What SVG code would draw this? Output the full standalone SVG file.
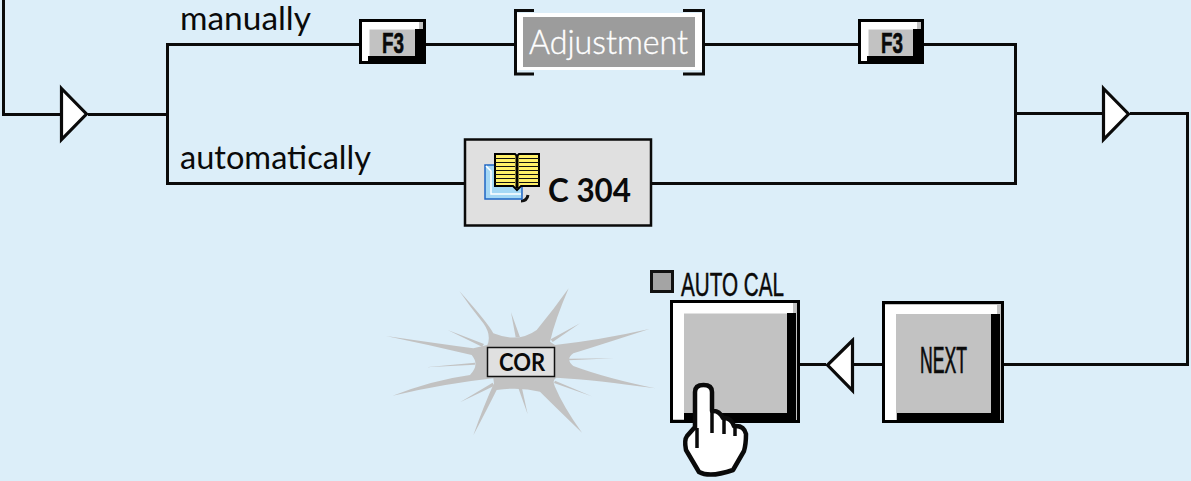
<svg xmlns="http://www.w3.org/2000/svg" width="1191" height="481" viewBox="0 0 1191 481">
<style>
text{font-family:"Lato","Liberation Sans",sans-serif;fill:#0a0a0a}
.lbl{font-size:32px}
.cond{font-family:"Liberation Sans",sans-serif;fill:#0a0a0a;stroke:#0a0a0a}
.wire{fill:none;stroke:#0a0a0a;stroke-width:3}
.tri{fill:#fff;stroke:#0a0a0a;stroke-width:3.200}
.blk{fill:#000}
.wht{fill:#fff}
.gry{fill:#c2c2c2}
</style>
<rect width="1191" height="481" fill="#dceef9"/>
<g id="connectors">
<path class="wire" d="M3.500 0V114.500H62M88 114.500H167"/>
<path class="wire" d="M360 44.500H167.500V183.500H465"/>
<path class="wire" d="M426 44.500H515M704 44.500H859M924 44.500H1015.500V183.500H651"/>
<path class="wire" d="M1015 113.500H1103M1130 113.500H1187.500V364.500H1003"/>
<path class="wire" d="M883 364.500H853M826 364.500H800"/>
<polygon class="tri" points="61.500,88.500 86.500,114 61.500,139.500"/>
<polygon class="tri" points="1103.500,88.500 1128.500,114 1103.500,139.500"/>
<polygon class="tri" points="852.500,340.500 827.500,365 852.500,390.500"/>
</g>
<g id="label-manually"><text class="lbl" x="180" y="30" textLength="131" lengthAdjust="spacingAndGlyphs">manually</text></g>
<g id="label-automatically"><text class="lbl" x="180" y="169" textLength="191" lengthAdjust="spacingAndGlyphs">automatically</text></g>
<g id="f3-left">
<rect x="359" y="19" width="67" height="45" class="blk"/>
<rect x="362" y="22" width="61" height="39" fill="#c2c2c2"/>
<rect x="362" y="22" width="57" height="7.500" class="wht"/>
<rect x="362" y="22" width="7.500" height="39" class="wht"/>
<rect x="415" y="29" width="8" height="32" class="blk"/>
<rect x="368" y="56" width="55" height="5" class="blk"/>
<text class="cond" x="382" y="53" font-size="30" font-weight="700" stroke-width=".6" textLength="22" lengthAdjust="spacingAndGlyphs">F3</text>
</g>
<g id="adjustment">
<rect x="517" y="13" width="185" height="57" class="wht"/>
<rect x="523" y="17" width="172" height="50" fill="#9c9c9c"/>
<path class="wire" d="M534 10.500H515.500V74H534M683 10.500H703.500V74H683" stroke-width="3.500"/>
<text x="529" y="54" font-size="34" font-weight="300" stroke="#fff" stroke-width=".4" textLength="159" lengthAdjust="spacingAndGlyphs" style="fill:#fff">Adjustment</text>
</g>
<g id="f3-right">
<rect x="858" y="19" width="66" height="45" class="blk"/>
<rect x="861" y="22" width="60" height="39" fill="#c2c2c2"/>
<rect x="861" y="22" width="56" height="7.500" class="wht"/>
<rect x="861" y="22" width="7.500" height="39" class="wht"/>
<rect x="913" y="29" width="8" height="32" class="blk"/>
<rect x="867" y="56" width="54" height="5" class="blk"/>
<text class="cond" x="881" y="53" font-size="30" font-weight="700" stroke-width=".6" textLength="22" lengthAdjust="spacingAndGlyphs">F3</text>
</g>
<g id="c304">
<rect x="465" y="139.500" width="186" height="86" fill="#e0e0e0" stroke="#0a0a0a" stroke-width="2.500"/>
<path d="M521 201q6 0 7-6" fill="none" stroke="#111" stroke-width="3"/>
<rect x="485" y="165" width="37" height="34" fill="#a5d8f5" stroke="#1f66c4" stroke-width="1.500"/>
<path d="M486 166l5 5v23h30" fill="none" stroke="#fff" stroke-width="1.500"/>
<path d="M495 154h20l2 2 2-2h20v32h-18l-4 4-4-4h-18z" fill="#fff068" stroke="#000" stroke-width="2"/>
<path d="M495 158.500h20M495 162.500h20M495 166.500h20M495 170.500h20M495 174.500h20M495 178.500h20M495 182.500h20M519 158.500h20M519 162.500h20M519 166.500h20M519 170.500h20M519 174.500h20M519 178.500h20M519 182.500h20" stroke="#111" stroke-width="1" fill="none"/>
<path d="M517 156v32" stroke="#000" stroke-width="3"/>
<text x="548" y="202" font-size="33" font-weight="700" textLength="83" lengthAdjust="spacingAndGlyphs">C 304</text>
</g>
<g id="cor">
<g transform="translate(380 280) scale(.33333)">
<path class="gry" d="M238 33Q325 130 340 160Q415 190 470 150Q520 90 566 25Q525 120 510 185L525 195Q660 180 808 147Q660 195 580 220Q555 238 580 258Q680 295 826 325Q650 300 530 293Q515 300 525 320Q550 380 606 458Q530 385 480 335Q420 320 350 330Q320 390 280 466Q310 380 342 310L340 295Q200 310 38 347Q160 300 270 285Q300 255 275 225Q150 195 18 168Q170 190 280 205L322 195Q335 165 310 130Q270 80 238 33Z"/>
<path class="gry" d="M393 97L420 172L407 172ZM600 130L512 178L518 186ZM702 235L565 236L565 241ZM635 349L525 302L522 309ZM443 403L426 325L416 327ZM240 367L338 308L342 318ZM138 262L285 248L285 254ZM203 150L312 192L306 200Z"/>
</g>
<rect x="487.500" y="347.500" width="67" height="29" fill="#e0e0e0" stroke="#111" stroke-width="1.500"/>
<text x="499" y="371" font-size="24" font-weight="700" textLength="46" lengthAdjust="spacingAndGlyphs">COR</text>
</g>
<g id="auto-cal">
<rect x="651.500" y="271.500" width="21" height="20" fill="#a4a4a4" stroke="#111" stroke-width="3"/>
<text class="cond" x="681" y="296" font-size="33" stroke-width=".5" textLength="103" lengthAdjust="spacingAndGlyphs">AUTO CAL</text>
<rect x="670" y="300" width="130" height="123" class="blk"/>
<rect x="673" y="303" width="124" height="117" class="gry"/>
<rect x="673" y="303" width="120" height="10.500" class="wht"/>
<rect x="673" y="303" width="11" height="116" class="wht"/>
<rect x="787" y="313" width="9" height="107" class="blk"/>
<rect x="684" y="413" width="112" height="7" class="blk"/>
</g>
<g id="next">
<rect x="882" y="301" width="122" height="122" class="blk"/>
<rect x="885" y="304" width="116" height="116" class="gry"/>
<rect x="885" y="305" width="112" height="9" class="wht"/>
<rect x="885" y="305" width="11" height="115" class="wht"/>
<rect x="991" y="314" width="9" height="106" class="blk"/>
<rect x="897" y="413" width="103" height="7" class="blk"/>
<text class="cond" x="920" y="373" font-size="36" stroke-width=".7" textLength="47" lengthAdjust="spacingAndGlyphs">NEXT</text>
</g>
<g id="hand">
<path d="M695 428V392Q695 385 703.500 385Q712 385 712 392V411Q719 410 723 418Q731 417 734 426Q744 425 746 434Q746 444 744 451L733 470Q710 478 699 472L686 450Q684 440 687 436L695 427Z" fill="#fff" stroke="#0a0a0a" stroke-width="4.500" stroke-linejoin="round"/>
<path d="M712 411V433M724 418V434M735 426V436M697 428V448" fill="none" stroke="#0a0a0a" stroke-width="3.500"/>
</g>
</svg>
